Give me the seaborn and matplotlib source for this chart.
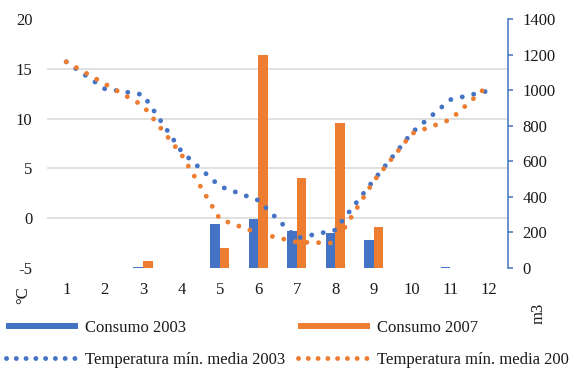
import numpy as np
import pandas as pd
import matplotlib
matplotlib.use("Agg")
import matplotlib.pyplot as plt
import seaborn as sns
from matplotlib.lines import Line2D

# Monthly data
months = list(range(1, 13))
consumo_2003 = [0, 0, 3, 0, 246, 274, 206, 197, 157, 0, 7, 0]
consumo_2007 = [0, 0, 39, 0, 112, 1200, 506, 813, 229, 0, 2, 0]
tmin_2003 = [15.7, 13.0, 12.4, 6.7, 3.2, 1.8, -2.0, -1.2, 3.8, 8.6, 11.9, 12.8]
tmin_2007 = [15.7, 13.5, 11.3, 6.4, -0.1, -1.5, -2.4, -2.5, 3.7, 8.5, 9.9, 13.4]

temp_ticks = [-5, 0, 5, 10, 15, 20]
cons_ticks = [0, 200, 400, 600, 800, 1000, 1200, 1400]

BLUE = "#4472C4"
ORANGE = "#ED7D31"
GRID = "#D9D9D9"
TEXT = "#1a1a1a"
FS = 12

sns.set_theme(style="white")
plt.rcParams["font.family"] = ["Liberation Serif", "DejaVu Serif"]
plt.rcParams["font.size"] = FS

fig = plt.figure(figsize=(5.69, 3.71), dpi=100)
ax = fig.add_axes([47 / 569, 1 - 268 / 371, 461 / 569, 249 / 371])
ax2 = ax.twinx()

# Consumption bars (right axis)
cons = pd.DataFrame({
    "Mes": months * 2,
    "m3": consumo_2003 + consumo_2007,
    "Serie": ["Consumo 2003"] * 12 + ["Consumo 2007"] * 12,
})
sns.barplot(data=cons, x="Mes", y="m3", hue="Serie", native_scale=True,
            width=0.5, palette=[BLUE, ORANGE], saturation=1, linewidth=0,
            legend=False, ax=ax2)

# Minimum temperature lines (left axis)
temp = pd.DataFrame({
    "Mes": months * 2,
    "C": tmin_2003 + tmin_2007,
    "Serie": ["Temperatura mín. media 2003"] * 12 + ["Temperatura mín. media 2007"] * 12,
})
dot_style = (0, (0.01, 2.4))
sns.lineplot(data=temp, x="Mes", y="C", hue="Serie", palette=[BLUE, ORANGE],
             linewidth=3.5, linestyle=dot_style, dash_capstyle="round",
             legend=False, ax=ax)

# Lines drawn above the bars
ax.set_zorder(ax2.get_zorder() + 1)
ax.patch.set_visible(False)

t_lo, t_hi = temp_ticks[0], temp_ticks[-1]
c_lo, c_hi = cons_ticks[0], cons_ticks[-1]
ax.set_ylim(t_lo, t_hi)
ax2.set_ylim(c_lo, c_hi)
ax.set_xlim(months[0] - 0.5, months[-1] + 0.5)

# Left axis
ax.set_yticks(temp_ticks)
ax.set_yticklabels([str(t) for t in temp_ticks])
ax.set_xticks(months)
ax.set_xticklabels([str(m) for m in months])
ax.tick_params(axis="y", length=0, pad=10.5, labelsize=FS, colors=TEXT)
ax.tick_params(axis="x", length=0, pad=10, labelsize=FS, colors=TEXT)
ax.grid(False)
for s in ax.spines.values():
    s.set_visible(False)
ax.set_xlabel("")
ax.set_ylabel("")

# Right axis with gridlines aligned to the temperature ticks
ax2.set_yticks(cons_ticks)
ax2.set_yticklabels([str(c) for c in cons_ticks])
grid_pos = [c_lo + (t - t_lo) / (t_hi - t_lo) * (c_hi - c_lo) for t in temp_ticks]
ax2.set_yticks(grid_pos, minor=True)
ax2.tick_params(axis="y", which="minor", length=0, right=False, left=False)
ax2.grid(which="minor", axis="y", color=GRID, linewidth=1.1)
ax2.grid(which="major", visible=False)
ax2.set_axisbelow(True)
ax2.tick_params(axis="y", which="major", direction="out", length=3.5, width=1.1,
                color=BLUE, pad=7, labelsize=FS, labelcolor=TEXT)
for name, s in ax2.spines.items():
    s.set_visible(name == "right")
ax2.spines["right"].set_color(BLUE)
ax2.spines["right"].set_linewidth(1.1)
ax2.set_xlabel("")
ax2.set_ylabel("")

# Axis titles
fig.text(23 / 569, 1 - 295 / 371, "°C", rotation=90, ha="center", va="center",
         fontsize=FS, color=TEXT)
fig.text(539 / 569, 1 - 313 / 371, "m3", rotation=90, ha="center", va="center",
         fontsize=FS, color=TEXT)

# Legend
handles = [
    Line2D([], [], color=BLUE, linewidth=4.3, solid_capstyle="butt"),
    Line2D([], [], color=BLUE, linewidth=3.5, linestyle=(0, (0.01, 2.0)),
           dash_capstyle="round"),
    Line2D([], [], color=ORANGE, linewidth=4.3, solid_capstyle="butt"),
    Line2D([], [], color=ORANGE, linewidth=3.5, linestyle=(0, (0.01, 2.0)),
           dash_capstyle="round"),
]
labels = ["Consumo 2003", "Temperatura mín. media 2003",
          "Consumo 2007", "Temperatura mín. media 2007"]
fig.legend(handles, labels, ncol=2, loc="upper left",
           bbox_to_anchor=(6 / 569, 1 - 320 / 371), frameon=False,
           borderpad=0, borderaxespad=0, handlelength=4.3, handletextpad=0.42,
           columnspacing=0.8, labelspacing=0.95, fontsize=FS,
           labelcolor=TEXT)

fig.savefig("out.png", dpi=100)
